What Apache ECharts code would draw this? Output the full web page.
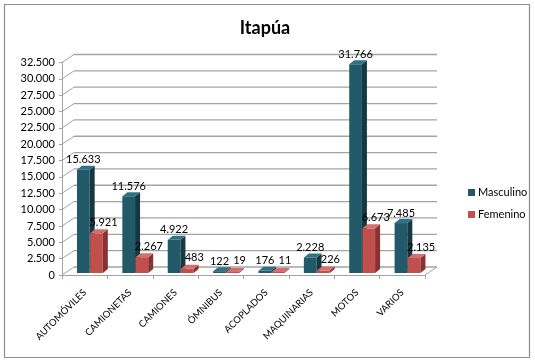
<!DOCTYPE html>
<html>
<head>
<meta charset="utf-8">
<script src="https://cdn.jsdelivr.net/npm/echarts@6/dist/echarts.min.js"></script>
<style>
html,body{margin:0;padding:0;background:#fff;}
#chart{width:535px;height:363px;}
</style>
</head>
<body>
<div id="chart"></div>
<script>
const categories = ['AUTOMÓVILES', 'CAMIONETAS', 'CAMIONES', 'ÓMNIBUS', 'ACOPLADOS', 'MAQUINARIAS', 'MOTOS', 'VARIOS'];
const masculino = [15633, 11576, 4922, 122, 176, 2228, 31766, 7485];
const femenino = [5921, 2267, 483, 19, 11, 226, 6673, 2135];
const yTicks = [0, 2500, 5000, 7500, 10000, 12500, 15000, 17500, 20000, 22500, 25000, 27500, 30000, 32500];
const seriesNames = ['Masculino', 'Femenino'];

const FONT = 'Lato, "Liberation Sans", sans-serif';
const fmt = v => String(v).replace(/\B(?=(\d{3})+(?!\d))/g, '.');
const DX = 12, DY = 8;      // wall depth
const BDX = 5, BDY = 4;     // bar depth

function frameRender(params, api) {
  const cs = params.coordSys;
  const v = api.value(1);
  const p = api.coord([0, v]);
  const x0 = cs.x, x1 = cs.x + cs.width, y = p[1];
  const stroke = '#A3A3A3';
  const children = [
    {type: 'line', shape: {x1: x0, y1: y, x2: x0 + DX, y2: y - DY}, style: {stroke, lineWidth: 1}},
    {type: 'line', shape: {x1: x0 + DX, y1: y - DY, x2: x1 + DX, y2: y - DY}, style: {stroke, lineWidth: 1.3}}
  ];
  if (v === 0) {
    children.push({type: 'line', shape: {x1: x1, y1: y, x2: x1 + DX, y2: y - DY}, style: {stroke, lineWidth: 1}});
  }
  return {type: 'group', children};
}

function makeBarRender(frontFrac, cols, labelDx, labelDy) {
  return function (params, api) {
    const i = api.value(0), v = api.value(1);
    const base = api.coord([i, 0]);
    const top = api.coord([i, v]);
    const bw = api.size([1, 0])[0];
    const w = 0.28 * bw;
    const x0 = base[0] + frontFrac * bw;
    const yb = base[1] - 2;
    const yt = Math.min(top[1] - 3, yb);
    return {
      type: 'group',
      children: [
        {type: 'rect', shape: {x: x0, y: yt, width: w, height: yb - yt}, style: {fill: cols[0]}},
        {type: 'polygon', shape: {points: [[x0 + w, yt], [x0 + w + BDX, yt - BDY], [x0 + w + BDX, yb - BDY], [x0 + w, yb]]}, style: {fill: cols[1]}},
        {type: 'polygon', shape: {points: [[x0, yt], [x0 + BDX, yt - BDY], [x0 + w + BDX, yt - BDY], [x0 + w, yt]]}, style: {fill: cols[2]}},
        {type: 'text', style: {text: fmt(v), x: x0 + w / 2 + labelDx, y: yt - labelDy, align: 'center', verticalAlign: 'middle', fill: '#000', fontSize: 11, fontFamily: FONT}}
      ]
    };
  };
}

const chart = echarts.init(document.getElementById('chart'), null, {renderer: 'canvas'});
chart.setOption({
  backgroundColor: '#fff',
  animation: false,
  title: {
    text: 'Itapúa', left: 260, top: 14, textAlign: 'center',
    textStyle: {fontSize: 18, fontWeight: 'bold', color: '#000', fontFamily: FONT}
  },
  legend: {
    orient: 'vertical', left: 463, top: 182, itemWidth: 7, itemHeight: 7, itemGap: 11,
    icon: 'rect', data: seriesNames,
    textStyle: {fontSize: 11, color: '#000', fontFamily: FONT, padding: [0, 0, 0, -2]}
  },
  grid: {left: 62, right: 110, top: 62.5, bottom: 88, containLabel: false},
  xAxis: {
    type: 'category', data: categories,
    axisLine: {lineStyle: {color: '#A3A3A3', width: 1}},
    axisTick: {show: true, length: 4, lineStyle: {color: '#A3A3A3'}},
    axisLabel: {rotate: 45, margin: 16, fontSize: 9.5, color: '#000', fontFamily: FONT, interval: 0},
    splitLine: {show: false}
  },
  yAxis: {
    type: 'value', min: 0, max: 32500, interval: 2500,
    axisLine: {show: true, lineStyle: {color: '#A3A3A3', width: 1}},
    axisTick: {show: true, length: 3, lineStyle: {color: '#A3A3A3'}},
    axisLabel: {margin: 7, fontSize: 11, color: '#000', fontFamily: FONT, formatter: v => fmt(v)},
    splitLine: {show: false}
  },
  graphic: [{
    type: 'rect', shape: {x: 4.5, y: 4.5, width: 525, height: 353},
    style: {fill: null, stroke: '#8E8E8E', lineWidth: 1.2}, z: 100, silent: true
  }],
  series: [
    {
      type: 'custom', name: 'frame', renderItem: frameRender, silent: true, z: 1,
      data: yTicks.map(v => [0, v]), encode: {x: 0, y: 1}
    },
    {
      type: 'custom', name: seriesNames[0], z: 3,
      itemStyle: {color: '#215968'},
      renderItem: makeBarRender(-0.17, ['#215968', '#143943', '#2E7385'], 0, 10),
      data: masculino.map((v, i) => [i, v]), encode: {x: 0, y: 1}
    },
    {
      type: 'custom', name: seriesNames[1], z: 4,
      itemStyle: {color: '#C0504D'},
      renderItem: makeBarRender(0.12, ['#C0504D', '#8A3230', '#D36F6C'], 7, 11),
      data: femenino.map((v, i) => [i, v]), encode: {x: 0, y: 1}
    }
  ]
});
</script>
</body>
</html>
